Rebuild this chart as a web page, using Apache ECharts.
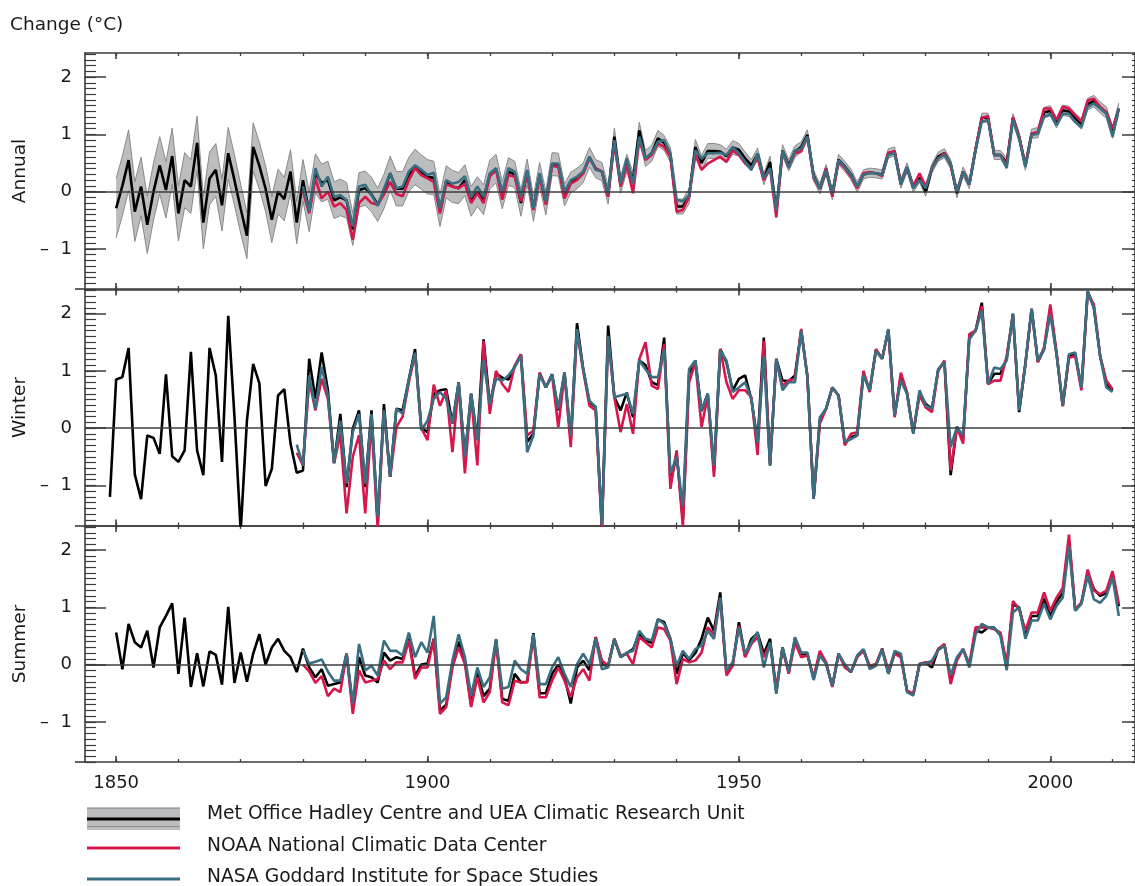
<!DOCTYPE html>
<html><head><meta charset="utf-8">
<script src="https://cdn.jsdelivr.net/npm/echarts@6/dist/echarts.min.js"></script>
<style>html,body{margin:0;padding:0;background:#fff}#c{width:1135px;height:886px}</style>
</head><body><div id="c"></div>
<script>
// ---------------- DATA ----------------
const panelNames = ['Annual', 'Winter', 'Summer'];
const xLabelYears = [1850, 1900, 1950, 2000];
const yMajorTicks = [-1, 0, 1, 2];
const legendLabels = [
  'Met Office Hadley Centre and UEA Climatic Research Unit',
  'NOAA National Climatic Data Center',
  'NASA Goddard Institute for Space Studies'
];

// Annual (Hadley 1850-2011, others 1880-2011)
const annualHadleyStart = 1850;
const annualHadley = [
  -0.29, 0.10, 0.55, -0.35, 0.09, -0.58, 0.00, 0.46, 0.03, 0.62,
  -0.38, 0.20, 0.09, 0.85, -0.54, 0.23, 0.38, -0.24, 0.67, 0.20,
  -0.30, -0.77, 0.78, 0.45, 0.05, -0.49, 0.00, -0.13, 0.35, -0.54,
  0.20, -0.35, 0.32, 0.15, 0.20, -0.15, -0.10, -0.15, -0.66, 0.03,
  0.06, -0.05, -0.23, 0.00, 0.32, 0.05, 0.05, 0.30, 0.43, 0.34,
  0.26, 0.24, -0.33, 0.17, 0.09, 0.06, 0.20, -0.17, 0.00, -0.14,
  0.30, 0.40, -0.06, 0.35, 0.30, -0.20, 0.35, -0.30, 0.30, -0.20,
  0.48, 0.47, -0.06, 0.16, 0.23, 0.33, 0.60, 0.40, 0.35, -0.06,
  0.96, 0.12, 0.50, 0.20, 1.07, 0.58, 0.67, 0.93, 0.85, 0.64,
  -0.26, -0.26, -0.08, 0.78, 0.50, 0.71, 0.71, 0.70, 0.62, 0.77,
  0.73, 0.58, 0.46, 0.66, 0.22, 0.52, -0.35, 0.72, 0.46, 0.70,
  0.78, 0.99, 0.28, 0.05, 0.38, -0.05, 0.56, 0.44, 0.30, 0.08,
  0.30, 0.33, 0.32, 0.30, 0.67, 0.70, 0.14, 0.42, 0.07, 0.24,
  0.00, 0.41, 0.61, 0.67, 0.48, -0.03, 0.35, 0.13, 0.73, 1.29,
  1.29, 0.64, 0.64, 0.50, 1.28, 0.95, 0.45, 1.01, 1.03, 1.38,
  1.41, 1.20, 1.42, 1.40, 1.28, 1.18, 1.53, 1.58, 1.47, 1.38,
  1.03, 1.45
];
// half-width of the grey uncertainty band (annual Hadley)
const annualHadleyUnc = [
  0.52, 0.52, 0.53, 0.52, 0.51, 0.50, 0.50, 0.50, 0.49, 0.49,
  0.48, 0.48, 0.47, 0.47, 0.46, 0.46, 0.46, 0.45, 0.45, 0.44,
  0.43, 0.40, 0.42, 0.41, 0.40, 0.40, 0.39, 0.38, 0.38, 0.37,
  0.36, 0.35, 0.34, 0.33, 0.33, 0.32, 0.32, 0.31, 0.28, 0.30,
  0.30, 0.30, 0.29, 0.30, 0.30, 0.30, 0.30, 0.30, 0.31, 0.30,
  0.30, 0.29, 0.28, 0.28, 0.28, 0.27, 0.27, 0.26, 0.26, 0.26,
  0.25, 0.25, 0.24, 0.24, 0.23, 0.23, 0.22, 0.22, 0.21, 0.21,
  0.20, 0.20, 0.19, 0.18, 0.18, 0.17, 0.17, 0.16, 0.16, 0.16,
  0.15, 0.15, 0.15, 0.14, 0.14, 0.14, 0.14, 0.14, 0.13, 0.13,
  0.13, 0.13, 0.13, 0.13, 0.13, 0.13, 0.13, 0.12, 0.12, 0.12,
  0.11, 0.11, 0.10, 0.10, 0.10, 0.10, 0.10, 0.10, 0.10, 0.10,
  0.09, 0.09, 0.09, 0.09, 0.09, 0.09, 0.09, 0.09, 0.09, 0.09,
  0.08, 0.08, 0.08, 0.08, 0.08, 0.08, 0.08, 0.08, 0.08, 0.08,
  0.08, 0.08, 0.08, 0.08, 0.08, 0.08, 0.08, 0.08, 0.08, 0.08,
  0.08, 0.08, 0.08, 0.08, 0.08, 0.08, 0.08, 0.08, 0.09, 0.09,
  0.09, 0.09, 0.09, 0.09, 0.09, 0.09, 0.10, 0.10, 0.10, 0.10,
  0.10, 0.10
];
const annualOtherStart = 1880;
const annualNOAA = [
  0.00, -0.38, 0.23, -0.12, 0.00, -0.26, -0.20, -0.32, -0.84, -0.20,
  -0.09, -0.20, -0.23, -0.05, 0.17, -0.04, -0.08, 0.20, 0.41, 0.29,
  0.23, 0.17, -0.38, 0.13, 0.09, 0.06, 0.14, -0.20, -0.03, -0.20,
  0.26, 0.38, -0.14, 0.29, 0.26, -0.17, 0.32, -0.32, 0.26, -0.23,
  0.45, 0.43, -0.12, 0.14, 0.20, 0.32, 0.58, 0.41, 0.35, -0.09,
  0.84, 0.09, 0.46, -0.03, 0.90, 0.55, 0.64, 0.84, 0.78, 0.61,
  -0.35, -0.32, -0.09, 0.64, 0.38, 0.49, 0.55, 0.61, 0.52, 0.72,
  0.64, 0.49, 0.41, 0.58, 0.20, 0.40, -0.45, 0.70, 0.43, 0.67,
  0.70, 0.96, 0.23, 0.06, 0.41, -0.09, 0.52, 0.41, 0.26, 0.06,
  0.32, 0.34, 0.32, 0.27, 0.68, 0.70, 0.14, 0.41, 0.09, 0.32,
  0.09, 0.41, 0.58, 0.67, 0.46, 0.00, 0.35, 0.14, 0.75, 1.28,
  1.32, 0.64, 0.64, 0.46, 1.30, 0.96, 0.46, 1.01, 1.04, 1.45,
  1.45, 1.25, 1.48, 1.45, 1.33, 1.22, 1.59, 1.62, 1.48, 1.39,
  1.10, 1.45
];
const annualNASA = [
  0.09, -0.35, 0.41, 0.09, 0.26, -0.09, -0.06, -0.15, -0.61, 0.09,
  0.12, -0.06, -0.25, 0.05, 0.32, 0.06, 0.09, 0.35, 0.46, 0.38,
  0.29, 0.33, -0.29, 0.20, 0.14, 0.17, 0.27, -0.09, 0.09, -0.09,
  0.32, 0.41, 0.00, 0.41, 0.35, -0.09, 0.38, -0.29, 0.32, -0.17,
  0.49, 0.49, 0.00, 0.20, 0.26, 0.35, 0.61, 0.38, 0.35, -0.03,
  0.90, 0.14, 0.58, 0.14, 0.96, 0.58, 0.67, 0.87, 0.90, 0.67,
  -0.14, -0.17, -0.06, 0.72, 0.58, 0.67, 0.67, 0.68, 0.64, 0.78,
  0.67, 0.52, 0.38, 0.67, 0.23, 0.41, -0.33, 0.72, 0.41, 0.72,
  0.75, 0.96, 0.26, 0.06, 0.38, -0.03, 0.55, 0.43, 0.29, 0.09,
  0.29, 0.33, 0.32, 0.29, 0.64, 0.67, 0.12, 0.43, 0.06, 0.20,
  0.06, 0.41, 0.58, 0.64, 0.49, 0.00, 0.35, 0.12, 0.72, 1.22,
  1.25, 0.64, 0.64, 0.41, 1.25, 0.93, 0.43, 0.99, 1.01, 1.30,
  1.36, 1.16, 1.36, 1.36, 1.22, 1.13, 1.48, 1.54, 1.45, 1.36,
  0.96, 1.45
];

// Winter (Hadley 1849-2010, others 1879-2010)
const winterHadleyStart = 1849;
const winterHadley = [
  -1.20,
  0.85, 0.89, 1.40, -0.81, -1.24, -0.13, -0.17, -0.45, 0.94, -0.49,
  -0.59, -0.39, 1.33, -0.39, -0.82, 1.40, 0.92, -0.59, 1.96, 0.20,
  -1.80, 0.13, 1.12, 0.78, -1.01, -0.71, 0.57, 0.68, -0.27, -0.78,
  -0.74, 1.21, 0.51, 1.32, 0.66, -0.61, 0.25, -1.03, -0.01, 0.31,
  -1.03, 0.31, -1.66, 0.42, -0.85, 0.34, 0.31, 0.85, 1.38, 0.00,
  -0.07, 0.60, 0.66, 0.68, 0.08, 0.80, -0.50, 0.60, -0.21, 1.55,
  0.40, 0.95, 0.88, 0.85, 1.08, 1.28, -0.24, -0.10, 0.96, 0.71,
  0.94, 0.31, 0.97, -0.20, 1.83, 1.03, 0.45, 0.37, -1.72, 1.79,
  0.54, 0.31, 0.62, 0.19, 1.18, 1.10, 0.80, 0.75, 1.58, -0.95,
  -0.45, -1.60, 0.95, 1.18, 0.30, 0.60, -0.75, 1.38, 1.15, 0.66,
  0.86, 0.92, 0.50, -0.25, 1.58, -0.65, 1.21, 0.83, 0.82, 0.92,
  1.70, 0.90, -1.23, 0.15, 0.34, 0.71, 0.57, -0.27, -0.16, -0.12,
  0.95, 0.66, 1.36, 1.21, 1.72, 0.21, 0.90, 0.60, -0.09, 0.62,
  0.42, 0.34, 1.02, 1.16, -0.82, 0.02, -0.18, 1.60, 1.70, 2.19,
  0.77, 0.95, 0.95, 1.22, 2.00, 0.28, 1.12, 2.08, 1.16, 1.38,
  2.08, 1.30, 0.39, 1.26, 1.30, 0.70, 2.39, 2.10, 1.26, 0.78,
  0.66
];
const winterOtherStart = 1879;
const winterNOAA = [
  -0.43,
  -0.65, 0.83, 0.31, 0.86, 0.51, -0.61, -0.10, -1.49, -0.50, -0.12,
  -1.49, 0.13, -1.75, 0.31, -0.85, 0.02, 0.20, 0.80, 1.29, 0.00,
  -0.21, 0.76, 0.39, 0.66, -0.42, 0.77, -0.79, 0.57, -0.65, 1.52,
  0.25, 1.00, 0.77, 0.63, 1.09, 1.29, -0.13, -0.04, 0.97, 0.71,
  0.92, 0.02, 0.94, -0.33, 1.70, 1.00, 0.39, 0.31, -1.78, 1.58,
  0.54, -0.07, 0.42, -0.10, 1.20, 1.50, 0.74, 0.68, 1.47, -1.06,
  -0.39, -1.72, 0.80, 1.15, 0.02, 0.57, -0.85, 1.38, 0.80, 0.51,
  0.66, 0.66, 0.54, -0.47, 1.52, -0.62, 1.18, 0.74, 0.83, 0.86,
  1.73, 0.90, -1.23, 0.08, 0.34, 0.71, 0.57, -0.30, -0.10, -0.07,
  1.00, 0.63, 1.38, 1.21, 1.70, 0.19, 0.97, 0.62, -0.07, 0.57,
  0.36, 0.28, 1.00, 1.18, -0.74, 0.02, -0.27, 1.64, 1.70, 2.13,
  0.77, 0.83, 0.83, 1.26, 1.96, 0.33, 1.12, 2.08, 1.15, 1.41,
  2.16, 1.32, 0.38, 1.23, 1.26, 0.66, 2.36, 2.16, 1.26, 0.83,
  0.68
];
const winterNASA = [
  -0.29,
  -0.65, 0.92, 0.34, 1.07, 0.57, -0.61, 0.13, -0.97, -0.07, 0.25,
  -0.97, 0.25, -1.55, 0.31, -0.85, 0.34, 0.25, 0.85, 1.32, -0.04,
  0.13, 0.51, 0.63, 0.51, 0.08, 0.80, -0.50, 0.60, -0.21, 1.18,
  0.42, 0.86, 0.83, 0.92, 1.06, 1.26, -0.42, -0.13, 0.94, 0.71,
  0.94, 0.34, 0.97, -0.13, 1.73, 1.03, 0.48, 0.37, -1.69, 1.61,
  0.54, 0.57, 0.60, 0.25, 1.18, 1.03, 0.89, 0.89, 1.38, -0.79,
  -0.50, -1.37, 1.03, 1.18, 0.31, 0.60, -0.65, 1.35, 1.18, 0.63,
  0.71, 0.80, 0.51, -0.25, 1.25, -0.65, 1.21, 0.66, 0.80, 0.80,
  1.70, 0.89, -1.23, 0.19, 0.34, 0.71, 0.57, -0.24, -0.19, -0.13,
  0.92, 0.66, 1.35, 1.21, 1.73, 0.22, 0.83, 0.60, -0.10, 0.66,
  0.39, 0.34, 1.03, 1.15, -0.33, 0.02, -0.13, 1.55, 1.70, 2.05,
  0.77, 1.06, 1.03, 1.18, 1.99, 0.31, 1.12, 2.08, 1.18, 1.38,
  1.99, 1.29, 0.39, 1.29, 1.32, 0.71, 2.39, 2.10, 1.26, 0.71,
  0.63
];

// Summer (Hadley 1850-2011, others 1880-2011)
const summerHadleyStart = 1850;
const summerHadley = [
  0.56, -0.08, 0.71, 0.39, 0.30, 0.59, -0.05, 0.65, 0.85, 1.07,
  -0.16, 0.82, -0.39, 0.20, -0.38, 0.23, 0.17, -0.35, 1.01, -0.32,
  0.21, -0.30, 0.19, 0.53, 0.00, 0.30, 0.45, 0.24, 0.13, -0.13,
  0.28, -0.05, -0.22, -0.08, -0.37, -0.34, -0.31, 0.19, -0.75, 0.13,
  -0.19, -0.22, -0.31, 0.21, 0.07, 0.13, 0.10, 0.45, -0.20, 0.00,
  0.02, 0.45, -0.80, -0.70, 0.00, 0.40, 0.07, -0.70, -0.15, -0.55,
  -0.42, 0.43, -0.60, -0.63, -0.16, -0.31, -0.30, 0.55, -0.50, -0.50,
  -0.16, 0.00, -0.22, -0.68, -0.05, 0.07, -0.10, 0.48, 0.00, -0.02,
  0.45, 0.13, 0.20, 0.27, 0.55, 0.42, 0.38, 0.79, 0.74, 0.45,
  -0.16, 0.20, 0.08, 0.20, 0.45, 0.82, 0.59, 1.26, -0.16, 0.00,
  0.74, 0.15, 0.45, 0.55, 0.19, 0.45, -0.48, 0.30, -0.13, 0.45,
  0.18, 0.18, -0.25, 0.20, 0.02, -0.38, 0.19, -0.02, -0.13, 0.15,
  0.26, -0.04, -0.01, 0.28, -0.16, 0.20, 0.16, -0.46, -0.52, 0.01,
  0.03, -0.05, 0.27, 0.35, -0.25, 0.10, 0.27, -0.02, 0.60, 0.56,
  0.65, 0.63, 0.53, -0.05, 1.05, 1.00, 0.53, 0.85, 0.85, 1.15,
  0.85, 1.10, 1.25, 2.17, 0.95, 1.08, 1.60, 1.32, 1.20, 1.25,
  1.58, 1.02
];
const summerOtherStart = 1880;
const summerNOAA = [
  0.00, -0.12, -0.32, -0.20, -0.55, -0.42, -0.48, 0.19, -0.86, -0.10,
  -0.31, -0.28, -0.25, 0.07, -0.08, 0.04, 0.04, 0.42, -0.25, -0.05,
  -0.05, 0.45, -0.86, -0.74, -0.05, 0.30, 0.01, -0.74, -0.22, -0.66,
  -0.48, 0.42, -0.66, -0.71, -0.28, -0.31, -0.31, 0.50, -0.57, -0.57,
  -0.28, -0.05, -0.28, -0.57, -0.22, -0.08, -0.28, 0.48, 0.07, -0.02,
  0.45, 0.16, 0.19, 0.01, 0.48, 0.39, 0.30, 0.65, 0.62, 0.42,
  -0.34, 0.10, 0.04, 0.07, 0.21, 0.65, 0.53, 1.17, -0.19, -0.02,
  0.68, 0.13, 0.36, 0.48, 0.13, 0.36, -0.40, 0.27, -0.16, 0.39,
  0.13, 0.16, -0.22, 0.24, 0.04, -0.39, 0.19, -0.05, -0.13, 0.13,
  0.24, -0.02, 0.01, 0.27, -0.10, 0.19, 0.13, -0.45, -0.51, 0.01,
  0.04, 0.04, 0.27, 0.36, -0.34, 0.07, 0.27, 0.01, 0.65, 0.65,
  0.65, 0.62, 0.56, 0.01, 1.11, 0.97, 0.59, 0.91, 0.91, 1.26,
  0.94, 1.17, 1.34, 2.27, 0.97, 1.08, 1.66, 1.29, 1.23, 1.29,
  1.63, 1.06
];
const summerNASA = [
  0.25, 0.02, 0.05, 0.09, -0.12, -0.28, -0.28, 0.19, -0.68, 0.36,
  -0.10, -0.02, -0.19, 0.42, 0.24, 0.24, 0.16, 0.56, 0.13, 0.39,
  0.21, 0.85, -0.68, -0.57, 0.07, 0.53, 0.13, -0.54, -0.05, -0.39,
  -0.22, 0.45, -0.42, -0.39, 0.07, -0.08, -0.16, 0.53, -0.34, -0.34,
  -0.05, 0.13, -0.16, -0.39, 0.01, 0.19, 0.01, 0.45, -0.08, -0.05,
  0.45, 0.13, 0.21, 0.24, 0.59, 0.45, 0.42, 0.79, 0.71, 0.45,
  -0.02, 0.24, 0.10, 0.27, 0.33, 0.59, 0.45, 1.17, -0.10, 0.04,
  0.65, 0.19, 0.39, 0.57, -0.05, 0.39, -0.51, 0.30, -0.13, 0.48,
  0.21, 0.21, -0.27, 0.16, 0.01, -0.37, 0.19, 0.01, -0.13, 0.16,
  0.27, -0.08, -0.02, 0.26, -0.16, 0.24, 0.19, -0.48, -0.54, 0.01,
  0.02, 0.07, 0.25, 0.33, -0.19, 0.13, 0.27, -0.05, 0.53, 0.71,
  0.65, 0.65, 0.50, -0.10, 0.91, 1.00, 0.45, 0.77, 0.77, 1.06,
  0.79, 1.03, 1.17, 2.07, 0.94, 1.06, 1.55, 1.14, 1.08, 1.20,
  1.52, 0.85
];

// ---------------- CHART ----------------
const FONT = '"DejaVu Sans", Verdana, sans-serif';
const TXT = '#1a1a1a';
const AX = '#3c3c3c';
const BLACK = '#000000';
const RED = '#d7174b';
const TEAL = '#3a6f82';
const BAND = '#bcbdbf';
const BAND_EDGE = '#8a8a8a';

const X_MIN = 1845, X_MAX = 2013.6, Y_MIN = -1.7, Y_MAX = 2.42;
const gridTops = [53, 289.5, 526];
const GRID_H = 236;

const decadeTicks = [];
for (let y = 1850; y <= 2010; y += 10) decadeTicks.push(y);
const minorY = [];
for (let i = -17; i <= 24; i++) minorY.push(+(i / 10).toFixed(1));

function pairs(start, arr) { return arr.map((v, i) => [start + i, v]); }

const grid = gridTops.map(t => ({ left: 85, width: 1051, top: t, height: GRID_H, containLabel: false }));

const xAxis = [];
const yAxis = [];
gridTops.forEach((t, g) => {
  const isLast = g === gridTops.length - 1;
  const base = { gridIndex: g, type: 'value', min: X_MIN, max: X_MAX, splitLine: { show: false } };
  xAxis.push(Object.assign({}, base, {
    position: 'bottom',
    axisLine: { show: true, onZero: false, lineStyle: { color: AX, width: 1.6 } },
    axisTick: { show: true, inside: true, length: 3, customValues: decadeTicks, lineStyle: { color: AX, width: 1.3 } },
    axisLabel: { show: isLast, customValues: xLabelYears, fontSize: 18, fontFamily: FONT, color: TXT, margin: 12,
      formatter: v => String(v) }
  }));
  xAxis.push(Object.assign({}, base, {
    position: 'bottom',
    axisLine: { show: false, onZero: false },
    axisTick: { show: true, inside: true, length: 6, customValues: xLabelYears, lineStyle: { color: AX, width: 1.6 } },
    axisLabel: { show: false }
  }));
  xAxis.push(Object.assign({}, base, {
    position: 'top',
    axisLine: { show: true, onZero: false, lineStyle: { color: AX, width: 1.6 } },
    axisTick: { show: true, inside: true, length: 3, customValues: decadeTicks, lineStyle: { color: AX, width: 1.3 } },
    axisLabel: { show: false }
  }));
  xAxis.push(Object.assign({}, base, {
    position: 'top',
    axisLine: { show: false, onZero: false },
    axisTick: { show: true, inside: true, length: 6, customValues: xLabelYears, lineStyle: { color: AX, width: 1.6 } },
    axisLabel: { show: false }
  }));

  const yb = { gridIndex: g, type: 'value', min: Y_MIN, max: Y_MAX, splitLine: { show: false } };
  yAxis.push(Object.assign({}, yb, {
    position: 'left',
    name: panelNames[g], nameLocation: 'middle', nameGap: 54, nameRotate: 90,
    nameTextStyle: { fontSize: 18.5, fontFamily: FONT, color: TXT },
    axisLine: { show: true, onZero: false, lineStyle: { color: AX, width: 1.6 } },
    axisTick: { show: true, inside: true, length: 21, customValues: yMajorTicks, lineStyle: { color: AX, width: 1.5 } },
    axisLabel: { show: true, customValues: yMajorTicks, fontSize: 18, fontFamily: FONT, color: TXT, margin: 13,
      formatter: v => (v < 0 ? '\u2013  ' + Math.abs(v) : String(v)) }
  }));
  yAxis.push(Object.assign({}, yb, {
    position: 'left',
    axisLine: { show: false, onZero: false },
    axisTick: { show: true, inside: true, length: 11, customValues: minorY, lineStyle: { color: AX, width: 1.2 } },
    axisLabel: { show: false }
  }));
  yAxis.push(Object.assign({}, yb, {
    position: 'left',
    axisLine: { show: false, onZero: false },
    axisTick: { show: true, inside: false, length: 10, customValues: [Y_MIN], lineStyle: { color: AX, width: 1.6 } },
    axisLabel: { show: false }
  }));
  yAxis.push(Object.assign({}, yb, {
    position: 'right',
    axisLine: { show: true, onZero: false, lineStyle: { color: AX, width: 1.6 } },
    axisTick: { show: true, inside: true, length: 13, customValues: yMajorTicks, lineStyle: { color: AX, width: 1.5 } },
    axisLabel: { show: false }
  }));
  yAxis.push(Object.assign({}, yb, {
    position: 'right',
    axisLine: { show: false, onZero: false },
    axisTick: { show: true, inside: true, length: 3, customValues: minorY, lineStyle: { color: AX, width: 1.2 } },
    axisLabel: { show: false }
  }));
});

function lineSeries(name, g, data, color, extra) {
  return Object.assign({
    name, type: 'line', xAxisIndex: g * 4, yAxisIndex: g * 5, data,
    symbol: 'none', showSymbol: false, smooth: false, clip: true,
    lineStyle: { color, width: 2.6 }, itemStyle: { color }, z: 3
  }, extra || {});
}
function zeroLine() {
  return { silent: true, symbol: ['none', 'none'], label: { show: false },
    lineStyle: { color: AX, width: 1.6, type: 'solid' }, data: [{ yAxis: 0 }], animation: false };
}

// band rows: [year, lower, upper]
const bandData = annualHadley.map((v, i) => [annualHadleyStart + i,
  +(v - annualHadleyUnc[i]).toFixed(3), +(v + annualHadleyUnc[i]).toFixed(3)]);

const bandSeries = {
  name: 'band', type: 'custom', xAxisIndex: 0, yAxisIndex: 0, data: bandData, z: 1, silent: true,
  encode: { x: 0, y: [1, 2] },
  renderItem: function (params, api) {
    if (params.dataIndex !== 0) return null;
    const up = [], lo = [];
    for (const d of bandData) {
      up.push(api.coord([d[0], d[2]]));
      lo.push(api.coord([d[0], d[1]]));
    }
    const poly = up.concat(lo.slice().reverse());
    return { type: 'group', children: [
      { type: 'polygon', shape: { points: poly }, style: { fill: BAND, stroke: null } },
      { type: 'polyline', shape: { points: up }, style: { stroke: BAND_EDGE, lineWidth: 1, fill: null } },
      { type: 'polyline', shape: { points: lo }, style: { stroke: BAND_EDGE, lineWidth: 1, fill: null } }
    ] };
  }
};

const series = [
  bandSeries,
  lineSeries('Hadley annual', 0, pairs(annualHadleyStart, annualHadley), BLACK, { markLine: zeroLine() }),
  lineSeries('NOAA annual', 0, pairs(annualOtherStart, annualNOAA), RED),
  lineSeries('NASA annual', 0, pairs(annualOtherStart, annualNASA), TEAL),
  lineSeries('Hadley winter', 1, pairs(winterHadleyStart, winterHadley), BLACK, { markLine: zeroLine() }),
  lineSeries('NOAA winter', 1, pairs(winterOtherStart, winterNOAA), RED),
  lineSeries('NASA winter', 1, pairs(winterOtherStart, winterNASA), TEAL),
  lineSeries('Hadley summer', 2, pairs(summerHadleyStart, summerHadley), BLACK, { markLine: zeroLine() }),
  lineSeries('NOAA summer', 2, pairs(summerOtherStart, summerNOAA), RED),
  lineSeries('NASA summer', 2, pairs(summerOtherStart, summerNASA), TEAL)
];

const txt = (x, y, text, size) => ({ type: 'text', x, y, silent: true,
  style: { text, fill: TXT, fontSize: size, fontFamily: FONT, verticalAlign: 'middle', align: 'left' } });

const graphic = [
  txt(10, 25, 'Change (\u00B0C)', 18.5),
  { type: 'rect', silent: true, shape: { x: 87, y: 807, width: 93, height: 23 }, style: { fill: BAND } },
  { type: 'line', silent: true, shape: { x1: 87, y1: 808.5, x2: 180, y2: 808.5 }, style: { stroke: '#9a9a9a', lineWidth: 1 } },
  { type: 'line', silent: true, shape: { x1: 87, y1: 826.5, x2: 180, y2: 826.5 }, style: { stroke: '#8a8a8a', lineWidth: 1 } },
  { type: 'line', silent: true, shape: { x1: 87, y1: 819, x2: 180, y2: 819 }, style: { stroke: BLACK, lineWidth: 3 } },
  { type: 'line', silent: true, shape: { x1: 87, y1: 848, x2: 180, y2: 848 }, style: { stroke: RED, lineWidth: 3 } },
  { type: 'line', silent: true, shape: { x1: 87, y1: 879, x2: 180, y2: 879 }, style: { stroke: TEAL, lineWidth: 3 } },
  txt(207, 814, legendLabels[0], 18.7),
  txt(207, 846, legendLabels[1], 18.7),
  txt(207, 877, legendLabels[2], 18.7)
];

const chart = echarts.init(document.getElementById('c'), null, { renderer: 'canvas' });
chart.setOption({
  backgroundColor: '#ffffff',
  animation: false,
  textStyle: { fontFamily: FONT },
  grid, xAxis, yAxis, series, graphic
});
</script>
</body></html>
